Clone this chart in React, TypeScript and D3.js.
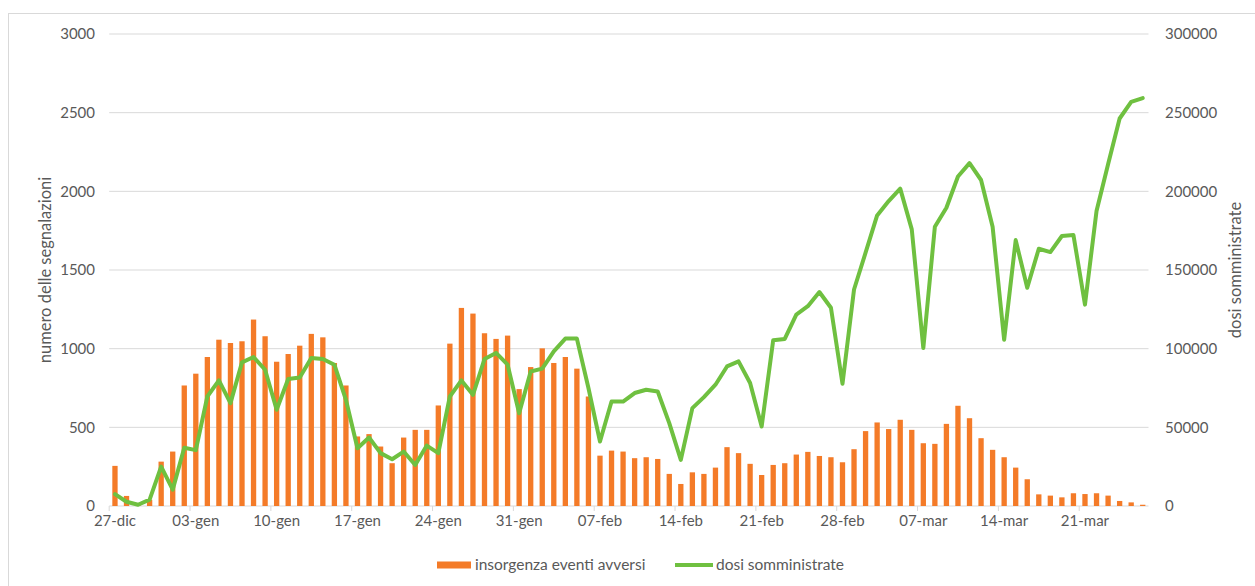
import React from 'react';
import * as d3 from 'd3';

// giorni dal 27 dicembre al 26 marzo
const firstDay = new Date(2020, 11, 27);
const days = d3.timeDay.range(firstDay, new Date(2021, 2, 27));
const mesi = ['gen', 'feb', 'mar', 'apr', 'mag', 'giu', 'lug', 'ago', 'set', 'ott', 'nov', 'dic'];
const fmtDay = (d: Date) => d3.timeFormat('%d')(d) + '-' + mesi[d.getMonth()];
const categories = days.map(fmtDay);

// insorgenza eventi avversi (asse sinistro)
const segnalazioni = [
  255, 64, 5, 40, 282, 346, 766, 841, 947, 1057, 1036, 1047, 1185, 1079, 917, 966, 1019, 1094, 1072, 909,
  766, 442, 457, 378, 272, 435, 484, 484, 639, 1032, 1259, 1223, 1098, 1062, 1083, 743, 883, 1002, 909, 947,
  873, 696, 320, 352, 346, 304, 310, 299, 204, 140, 214, 204, 244, 374, 336, 268, 197, 261, 272, 327,
  344, 318, 310, 278, 361, 476, 531, 489, 548, 484, 399, 395, 522, 637, 558, 431, 357, 310, 244, 170,
  74, 66, 55, 81, 76, 81, 66, 32, 23, 8,
];

// dosi somministrate (asse destro)
const dosi = [
  7600, 2700, 800, 4000, 25000, 10400, 37000, 35500, 69600, 79800, 65400, 91300, 94700, 86600, 61200, 80700, 81700, 94100, 93400, 89800,
  67500, 36700, 43500, 33600, 29700, 34600, 26100, 38400, 33600, 69600, 79800, 70700, 93400, 97300, 89800, 59000, 85500, 87300, 98300, 106400,
  106400, 75000, 41000, 66400, 66400, 71800, 73900, 72800, 52700, 29300, 62200, 69200, 77100, 88700, 91900, 78200, 50500, 105300, 106200, 121700,
  127000, 136000, 126000, 77700, 137600, 161000, 184700, 193800, 201700, 175800, 100400, 177500, 189600, 209400, 217900, 207200, 177500, 105700, 169000, 138700,
  163500, 161400, 171600, 172200, 128000, 187500, 217200, 246300, 256900, 259300,
];

const leftTicks = [0, 500, 1000, 1500, 2000, 2500, 3000];
const rightTicks = [0, 50000, 100000, 150000, 200000, 250000, 300000];

const W = 1255;
const H = 586;
const plot = { left: 109.2, right: 1148.5, top: 34, bottom: 506 };
const FONT = 'Lato, "Open Sans", sans-serif';
const TXT = '#595959';
const ORANGE = '#F47B28';
const GREEN = '#6FC040';

export default function App() {
  const x = d3.scaleBand<string>().domain(categories).range([plot.left, plot.right]).padding(0);
  const yL = d3.scaleLinear().domain([0, 3000]).range([plot.bottom, plot.top]);
  const yR = d3.scaleLinear().domain([0, 300000]).range([plot.bottom, plot.top]);
  const bw = x.bandwidth();
  const barW = bw * 0.46;
  const cx = (c: string) => (x(c) as number) + bw / 2;

  const line = d3.line<number>()
    .x((_, i) => cx(categories[i]))
    .y(d => yR(d));

  const labelIdx = categories.map((_, i) => i).filter(i => i % 7 === 0);

  return (
    <svg width={W} height={H} style={{ position: 'absolute', left: 0, top: 0, background: '#fff' }} fontFamily={FONT}>
      <rect x={8.5} y={13.5} width={1300} height={700} fill="#fff" stroke="#d9d9d9" />

      {leftTicks.map(t => (
        <line key={t} x1={plot.left} x2={plot.right} y1={yL(t)} y2={yL(t)} stroke="#d9d9d9" strokeWidth={1} />
      ))}

      {leftTicks.map(t => (
        <text key={t} x={95} y={yL(t)} dy="0.35em" textAnchor="end" fontSize={15} fill={TXT}>{t}</text>
      ))}
      {rightTicks.map(t => (
        <text key={t} x={1165} y={yR(t)} dy="0.35em" textAnchor="start" fontSize={15} fill={TXT}>{t}</text>
      ))}

      {/* tacche asse x */}
      {labelIdx.map(i => (
        <line key={i} x1={x(categories[i])} x2={x(categories[i])} y1={plot.bottom} y2={plot.bottom + 5} stroke="#d9d9d9" />
      ))}
      {labelIdx.map(i => (
        <text key={i} x={cx(categories[i])} y={plot.bottom + 15} dy="0.35em" textAnchor="middle" fontSize={15} fill={TXT}>
          {categories[i]}
        </text>
      ))}

      {segnalazioni.map((v, i) => (
        <rect key={i} x={cx(categories[i]) - barW / 2} y={yL(v)} width={barW} height={plot.bottom - yL(v)} fill={ORANGE} />
      ))}

      <path d={line(dosi) || ''} fill="none" stroke={GREEN} strokeWidth={4} strokeLinejoin="round" strokeLinecap="round" />

      <text transform={`translate(45,${(plot.top + plot.bottom) / 2}) rotate(-90)`} textAnchor="middle" dy="0.35em" fontSize={16.5} fill={TXT}>
        numero delle segnalazioni
      </text>
      <text transform={`translate(1235,${(plot.top + plot.bottom) / 2}) rotate(-90)`} textAnchor="middle" dy="0.35em" fontSize={16.5} fill={TXT}>
        dosi somministrate
      </text>

      {/* legenda */}
      <rect x={437} y={561.5} width={34} height={7} fill={ORANGE} />
      <text x={475} y={565} dy="0.35em" fontSize={15.5} fill={TXT}>insorgenza eventi avversi</text>
      <line x1={675} x2={713} y1={565} y2={565} stroke={GREEN} strokeWidth={4} />
      <text x={716} y={565} dy="0.35em" fontSize={15.5} fill={TXT}>dosi somministrate</text>
    </svg>
  );
}
